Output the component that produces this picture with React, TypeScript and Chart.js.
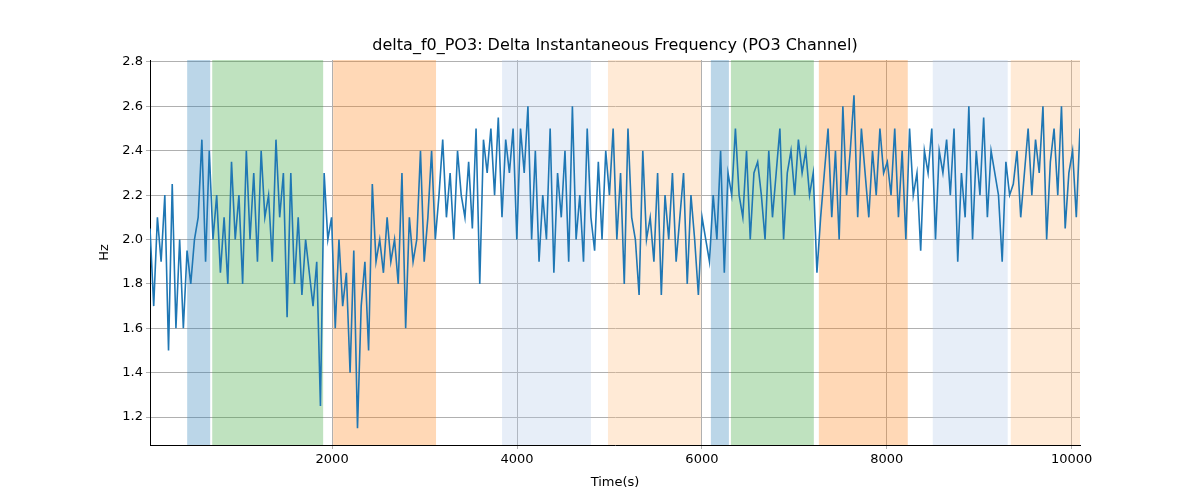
import React, { useEffect, useRef } from "react";
import { Chart, registerables } from "chart.js";
Chart.register(...registerables);

const X_MIN = 30;
const X_MAX = 10090;
const Y_MIN = 1.074;
const Y_MAX = 2.809;
const X_TICKS = [2000, 4000, 6000, 8000, 10000];
const Y_TICKS = [1.2, 1.4, 1.6, 1.8, 2.0, 2.2, 2.4, 2.6, 2.8];
const TITLE = "delta_f0_PO3: Delta Instantaneous Frequency (PO3 Channel)";

const values: number[] = [
  2.05, 1.7, 2.1, 1.9, 2.2, 1.5, 2.25, 1.6, 2.0, 1.6, 1.95, 1.8, 2.0, 2.1, 2.45, 1.9, 2.4, 2.0, 2.2, 1.85, 2.1, 1.8, 2.35, 2.0, 2.2,
  1.8, 2.4, 2.0, 2.3, 1.9, 2.4, 2.1, 2.2, 1.9, 2.45, 2.1, 2.3, 1.65, 2.3, 1.8, 2.1, 1.75, 2.0, 1.85, 1.7, 1.9, 1.25, 2.3, 2.0, 2.1,
  1.6, 2.0, 1.7, 1.85, 1.4, 1.95, 1.15, 1.7, 1.9, 1.5, 2.25, 1.9, 2.0, 1.85, 2.1, 1.9, 2.0, 1.8, 2.3, 1.6, 2.1, 1.9, 2.0, 2.4, 1.9,
  2.1, 2.4, 2.0, 2.2, 2.45, 2.1, 2.3, 2.0, 2.4, 2.2, 2.1, 2.35, 2.05, 2.5, 1.8, 2.45, 2.3, 2.5, 2.2, 2.55, 2.1, 2.45, 2.3, 2.5, 2.0,
  2.5, 2.3, 2.6, 2.0, 2.4, 1.9, 2.2, 2.0, 2.5, 1.85, 2.3, 2.1, 2.4, 1.9, 2.6, 2.0, 2.2, 1.9, 2.5, 2.1, 1.95, 2.35, 2.0, 2.4, 2.2,
  2.5, 2.0, 2.3, 1.8, 2.5, 2.1, 2.0, 1.75, 2.4, 2.0, 2.1, 1.9, 2.3, 1.75, 2.2, 2.0, 2.3, 1.9, 2.1, 2.3, 1.8, 2.2, 2.0, 1.75, 2.1,
  2.0, 1.9, 2.2, 2.0, 2.4, 1.85, 2.3, 2.2, 2.5, 2.2, 2.1, 2.4, 2.0, 2.3, 2.35, 2.2, 2.0, 2.4, 2.1, 2.3, 2.5, 2.0, 2.3, 2.4, 2.2,
  2.45, 2.3, 2.4, 2.2, 2.3, 1.85, 2.1, 2.3, 2.5, 2.1, 2.4, 2.0, 2.6, 2.2, 2.4, 2.65, 2.1, 2.5, 2.3, 2.1, 2.4, 2.2, 2.5, 2.3, 2.35,
  2.2, 2.5, 2.1, 2.4, 2.0, 2.5, 2.2, 2.3, 1.95, 2.4, 2.3, 2.5, 2.0, 2.4, 2.3, 2.45, 2.2, 2.5, 1.9, 2.3, 2.1, 2.6, 2.0, 2.4, 2.2,
  2.55, 2.1, 2.4, 2.3, 2.2, 1.9, 2.35, 2.2, 2.25, 2.4, 2.1, 2.3, 2.5, 2.2, 2.45, 2.3, 2.6, 2.0, 2.35, 2.5, 2.2, 2.6, 2.05, 2.3, 2.4, 2.1, 2.5,
];

const bandStarts = [432, 703, 2011, 3838, 4984, 6097, 6314, 7265, 8497, 9341];
const bandEnds = [681, 1903, 3124, 4800, 5989, 6292, 7211, 8227, 9308, 10090];
const bandColors = [
  "rgba(31,119,180,0.3)", "rgba(44,160,44,0.3)", "rgba(255,127,14,0.3)",
  "rgba(174,199,232,0.3)", "rgba(255,187,120,0.3)",
  "rgba(31,119,180,0.3)", "rgba(44,160,44,0.3)", "rgba(255,127,14,0.3)",
  "rgba(174,199,232,0.3)", "rgba(255,187,120,0.3)",
];

const bandPlugin = {
  id: "bands",
  beforeDatasetsDraw(chart: any) {
    const { ctx, chartArea, scales } = chart;
    ctx.save();
    ctx.beginPath();
    ctx.rect(chartArea.left, chartArea.top, chartArea.width, chartArea.height);
    ctx.clip();
    bandStarts.forEach((s, i) => {
      const x1 = scales.x.getPixelForValue(s);
      const x2 = scales.x.getPixelForValue(bandEnds[i]);
      ctx.fillStyle = bandColors[i];
      ctx.fillRect(x1, chartArea.top, x2 - x1, chartArea.height);
    });
    ctx.restore();
  },
  afterDraw(chart: any) {
    const { ctx, chartArea } = chart;
    ctx.save();
    ctx.fillStyle = "#000";
    ctx.font = "16px 'DejaVu Sans'";
    ctx.textAlign = "center";
    ctx.textBaseline = "bottom";
    ctx.fillText(TITLE, (chartArea.left + chartArea.right) / 2, chartArea.top - 6);
    ctx.restore();
  },
};

export default function App() {
  const ref = useRef<HTMLCanvasElement>(null);
  useEffect(() => {
    const step = (X_MAX - X_MIN) / (values.length - 1);
    const pts = values.map((v, i) => ({ x: X_MIN + i * step, y: v }));
    const font = { family: "DejaVu Sans", size: 13 };
    const chart = new Chart(ref.current!, {
      type: "line",
      data: { datasets: [{ data: pts, borderColor: "#1f77b4", borderWidth: 1.6, pointRadius: 0, tension: 0 }] },
      options: {
        animation: false,
        responsive: false,
        layout: { padding: { left: 97, right: 120, top: 60, bottom: 10 } },
        plugins: { legend: { display: false }, tooltip: { enabled: false }, title: { display: false } },
        scales: {
          x: {
            type: "linear", min: X_MIN, max: X_MAX,
            afterBuildTicks: (s: any) => { s.ticks = X_TICKS.map((v) => ({ value: v })); },
            afterFit: (s: any) => { s.height = 45; },
            ticks: { color: "#000", font, maxRotation: 0, callback: (v: any) => String(v) },
            grid: { color: "#b0b0b0", tickLength: 4 },
            border: { color: "#000" },
            title: { display: true, text: "Time(s)", color: "#000", font, padding: 0 },
          },
          y: {
            min: Y_MIN, max: Y_MAX,
            afterBuildTicks: (s: any) => { s.ticks = Y_TICKS.map((v) => ({ value: v })); },
            afterFit: (s: any) => { s.width = 53; },
            ticks: { color: "#000", font, callback: (v: any) => Number(v).toFixed(1) },
            grid: { color: "#b0b0b0", tickLength: 4 },
            border: { color: "#000" },
            title: { display: true, text: "Hz", color: "#000", font, padding: 0 },
          },
        },
      },
      plugins: [bandPlugin],
    });
    return () => chart.destroy();
  }, []);
  return <canvas ref={ref} width={1200} height={500} style={{ position: "fixed", left: 0, top: 0 }} />;
}
